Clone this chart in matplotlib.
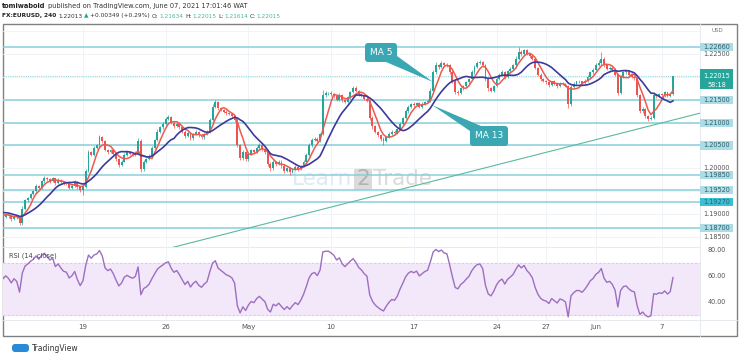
import numpy as np
import pandas as pd
import matplotlib
matplotlib.use('Agg')
import matplotlib.pyplot as plt
from matplotlib.patches import Rectangle, FancyBboxPatch, Polygon
from matplotlib.transforms import blended_transform_factory

# ---- data: EURUSD 4H closes (first 18 bars are warm-up, left of the view) ----
first_open = 1.1868
closes = [
    1.1870, 1.1865, 1.1872, 1.1880, 1.1878, 1.1875,   # Apr 7
    1.1885, 1.1898, 1.1905, 1.1912, 1.1915, 1.1918,   # Apr 8
    1.1910, 1.1902, 1.1895, 1.1890, 1.1898, 1.1900,   # Apr 9
    1.1905, 1.1893, 1.1898, 1.1895, 1.1890, 1.1896,   # Apr 12
    1.1893, 1.1880, 1.1912, 1.1930, 1.1936, 1.1944,   # Apr 13
    1.1950, 1.1962, 1.1958, 1.1972, 1.1980, 1.1976,   # Apr 14
    1.1972, 1.1978, 1.1968, 1.1975, 1.1970, 1.1966,   # Apr 15
    1.1965, 1.1958, 1.1962, 1.1970, 1.1960, 1.1952,   # Apr 16
    1.1960, 1.1995, 1.2035, 1.2030, 1.2045, 1.2050,   # Apr 19
    1.2068, 1.2060, 1.2040, 1.2035, 1.2040, 1.2032,   # Apr 20
    1.2020, 1.2008, 1.2015, 1.2030, 1.2035, 1.2032,   # Apr 21
    1.2030, 1.2034, 1.2060, 1.1998, 1.2015, 1.2020,   # Apr 22
    1.2028, 1.2045, 1.2062, 1.2080, 1.2090, 1.2098,   # Apr 23
    1.2108, 1.2112, 1.2100, 1.2092, 1.2098, 1.2090,   # Apr 26
    1.2080, 1.2070, 1.2078, 1.2066, 1.2075, 1.2080,   # Apr 27
    1.2072, 1.2068, 1.2075, 1.2080, 1.2105, 1.2135,   # Apr 28
    1.2145, 1.2132, 1.2128, 1.2124, 1.2120, 1.2118,   # Apr 29
    1.2115, 1.2106, 1.2050, 1.2022, 1.2035, 1.2020,   # Apr 30
    1.2032, 1.2040, 1.2036, 1.2045, 1.2050, 1.2042,   # May 3
    1.2035, 1.2010, 1.2000, 1.2015, 1.2010, 1.2015,   # May 4
    1.2005, 1.1995, 1.2000, 1.1992, 1.1998, 1.2003,   # May 5
    1.1998, 1.2005, 1.2015, 1.2030, 1.2050, 1.2062,   # May 6
    1.2065, 1.2060, 1.2075, 1.2160, 1.2165, 1.2165,   # May 7
    1.2162, 1.2158, 1.2150, 1.2160, 1.2150, 1.2145,   # May 10
    1.2155, 1.2166, 1.2176, 1.2170, 1.2162, 1.2158,   # May 11
    1.2152, 1.2148, 1.2110, 1.2092, 1.2080, 1.2072,   # May 12
    1.2065, 1.2060, 1.2068, 1.2075, 1.2080, 1.2078,   # May 13
    1.2085, 1.2098, 1.2110, 1.2125, 1.2135, 1.2140,   # May 14
    1.2138, 1.2142, 1.2135, 1.2140, 1.2145, 1.2148,   # May 17
    1.2170, 1.2210, 1.2225, 1.2222, 1.2230, 1.2226,   # May 18
    1.2225, 1.2210, 1.2190, 1.2168, 1.2165, 1.2175,   # May 19
    1.2180, 1.2188, 1.2195, 1.2210, 1.2222, 1.2230,   # May 20
    1.2232, 1.2225, 1.2195, 1.2175, 1.2170, 1.2180,   # May 21
    1.2195, 1.2205, 1.2210, 1.2200, 1.2212, 1.2218,   # May 24
    1.2225, 1.2240, 1.2255, 1.2250, 1.2258, 1.2250,   # May 25
    1.2245, 1.2238, 1.2220, 1.2205, 1.2195, 1.2190,   # May 26
    1.2188, 1.2182, 1.2190, 1.2185, 1.2180, 1.2186,   # May 27
    1.2184, 1.2180, 1.2140, 1.2178, 1.2185, 1.2190,   # May 28
    1.2190, 1.2186, 1.2192, 1.2200, 1.2210, 1.2215,   # May 31
    1.2225, 1.2230, 1.2240, 1.2225, 1.2218, 1.2220,   # Jun 1
    1.2215, 1.2205, 1.2165, 1.2200, 1.2210, 1.2212,   # Jun 2
    1.2205, 1.2200, 1.2198, 1.2160, 1.2125, 1.2130,   # Jun 3
    1.2115, 1.2108, 1.2110, 1.2160, 1.2158, 1.2162,   # Jun 4
    1.2160, 1.2166, 1.2158, 1.21634, 1.22015,         # Jun 7
]
# wick length above / below the body, in pips
wick_hi = [
    3, 2, 4, 3, 2, 3, 4, 3, 3, 2, 3, 2, 2, 3, 2, 3, 2, 3,
    4, 2, 3, 2, 3, 2, 3, 2, 5, 3, 2, 3, 3, 4, 2, 3, 4, 2,
    3, 4, 2, 3, 2, 2, 3, 2, 3, 4, 2, 2, 2, 4, 5, 3, 4, 3,
    5, 3, 2, 3, 3, 2, 2, 3, 3, 4, 2, 3, 2, 3, 6, 4, 3, 2,
    3, 4, 3, 5, 3, 3, 4, 5, 2, 3, 3, 2, 2, 3, 4, 2, 3, 3,
    2, 3, 3, 4, 5, 6, 5, 3, 3, 2, 3, 2, 3, 2, 4, 3, 5, 2,
    4, 3, 2, 4, 5, 3, 3, 2, 3, 4, 2, 3, 3, 4, 3, 2, 3, 4,
    2, 3, 4, 3, 5, 4, 3, 4, 3, 11, 4, 3, 5, 3, 2, 4, 3, 2,
    4, 3, 5, 3, 2, 3, 3, 4, 3, 4, 3, 2, 3, 4, 3, 4, 3, 4,
    3, 4, 3, 5, 3, 3, 4, 3, 3, 4, 3, 4, 5, 6, 8, 4, 5, 3,
    4, 3, 4, 3, 4, 3, 3, 4, 3, 4, 3, 5, 4, 3, 4, 3, 2, 3,
    4, 3, 4, 3, 3, 4, 3, 5, 11, 4, 3, 3, 3, 4, 3, 2, 3, 3,
    3, 4, 2, 3, 3, 2, 3, 2, 3, 4, 3, 2, 3, 2, 3, 4, 3, 4,
    5, 6, 14, 3, 2, 3, 3, 4, 3, 4, 3, 2, 3, 4, 3, 2, 3, 4,
    3, 2, 4, 6, 3, 2, 3, 4, 2, 3, 0,
]
wick_lo = [
    3, 3, 2, 4, 2, 3, 2, 3, 3, 2, 3, 2, 3, 3, 2, 3, 2, 3,
    3, 4, 2, 3, 4, 2, 3, 4, 3, 2, 3, 2, 2, 3, 3, 2, 3, 3,
    3, 2, 4, 3, 2, 3, 2, 3, 2, 3, 4, 3, 10, 3, 2, 4, 3, 2,
    3, 4, 3, 4, 2, 3, 3, 5, 3, 2, 3, 2, 3, 2, 3, 6, 4, 3,
    2, 3, 2, 3, 2, 3, 3, 2, 4, 3, 2, 4, 3, 4, 2, 4, 3, 2,
    3, 4, 3, 2, 3, 2, 3, 4, 2, 3, 3, 2, 3, 4, 4, 4, 3, 3,
    3, 2, 4, 3, 2, 3, 3, 4, 5, 3, 4, 3, 4, 5, 3, 7, 3, 2,
    3, 2, 3, 2, 3, 4, 3, 4, 2, 3, 3, 4, 3, 4, 3, 2, 4, 3,
    2, 3, 2, 4, 3, 2, 3, 2, 4, 5, 3, 4, 5, 8, 3, 2, 3, 4,
    3, 2, 3, 2, 3, 2, 3, 2, 4, 3, 2, 3, 2, 3, 3, 4, 2, 3,
    3, 4, 3, 5, 4, 3, 3, 2, 3, 2, 3, 2, 2, 3, 4, 5, 3, 2,
    3, 2, 3, 4, 2, 3, 3, 2, 3, 4, 3, 2, 3, 2, 3, 4, 3, 2,
    3, 4, 2, 3, 4, 3, 2, 3, 8, 3, 2, 3, 3, 4, 2, 3, 2, 3,
    3, 2, 3, 4, 3, 2, 3, 4, 5, 3, 2, 3, 3, 2, 4, 3, 4, 3,
    4, 4, 3, 3, 4, 3, 3, 4, 3, 2, 2,
]
warmup = 18

# drawn horizontal levels and their axis labels
levels = [1.2266, 1.2150, 1.2100, 1.2050, 1.1985, 1.1952, 1.1927, 1.1870]
level_labels = ['1.22660', '1.21500', '1.21000', '1.20500', '1.19850', '1.19520', '1.19270', '1.18700']
scale_ticks = [1.2250, 1.2000, 1.1900, 1.1850]
scale_labels = ['1.22500', '1.20000', '1.19000', '1.18500']
# trend line (bar index, price)
trend_x = [48, 254]
trend_y = [1.1805, 1.2121]
# time axis (bar index of first bar of the day)
tick_bars = [30, 60, 90, 120, 150, 180, 198, 216, 240]
tick_labels = ['19', '26', 'May', '10', '17', '24', '27', 'Jun', '7']
rsi_ticks = [80, 60, 40]

UP, DOWN = '#26a69a', '#ef5350'
LEVEL = '#8acfdb'

closes = np.array(closes)
x = np.arange(len(closes)) - warmup
opens = np.r_[first_open, closes[:-1]]
highs = np.maximum(opens, closes) + np.array(wick_hi) / 1e4
lows = np.minimum(opens, closes) - np.array(wick_lo) / 1e4
ma5 = pd.Series(closes).rolling(5).mean().values
ma13 = pd.Series(closes).rolling(13).mean().values


def rsi(c, n=14):
    d = np.diff(c)
    up = np.where(d > 0, d, 0.0)
    dn = np.where(d < 0, -d, 0.0)
    out = np.full(len(c), np.nan)
    au, ad = up[:n].mean(), dn[:n].mean()
    out[n] = 100 - 100 / (1 + au / ad)
    for i in range(n, len(d)):
        au = (au * (n - 1) + up[i]) / n
        ad = (ad * (n - 1) + dn[i]) / n
        out[i + 1] = 100 - 100 / (1 + au / ad)
    return out


rsi14 = rsi(closes)

W, H = 740, 357
fig = plt.figure(figsize=(W / 100, H / 100), dpi=100)
fig.patch.set_facecolor('white')
renderer = fig.canvas.get_renderer()


def px_axes(x0, y0, x1, y1, z):
    return fig.add_axes([x0 / W, 1 - y1 / H, (x1 - x0) / W, (y1 - y0) / H], zorder=z)


bg = px_axes(0, 0, W, H, 0)
bg.set_xlim(0, W)
bg.set_ylim(H, 0)
bg.axis('off')

ax = px_axes(3, 25, 700, 247, 1)
ax_rsi = px_axes(3, 247, 700, 320, 1)
fg = px_axes(0, 0, W, H, 2)
fg.set_xlim(0, W)
fg.set_ylim(H, 0)
fg.axis('off')
fg.patch.set_alpha(0)

for a in (ax, ax_rsi):
    a.patch.set_alpha(0)
    for s in a.spines.values():
        s.set_visible(False)
    a.set_xlim(1, 253.8)
    for tb in tick_bars:
        a.axvline(tb, color='#eef1f6', lw=0.6, zorder=0)

# ---- main pane ----
ax.set_ylim(1.182814, 1.231339)
ax.set_xticks([])
ax.set_yticks([])
for g in np.arange(1.185, 1.2301, 0.005):
    ax.axhline(g, color='#eef1f6', lw=0.6, zorder=0)
for lv in levels:
    ax.axhline(lv, color=LEVEL, lw=1.1, zorder=1)
ax.axhline(closes[-1], color=LEVEL, lw=0.8, ls=(0, (1, 1)), alpha=0.8, zorder=1)
ax.plot(trend_x, trend_y, color='#5cb89f', lw=0.8, zorder=2)

up = closes >= opens
body = closes - opens
body = np.where(np.abs(body) < 1e-5, 4e-5, body)
for m, col in ((up, UP), (~up, DOWN)):
    ax.vlines(x[m], lows[m], highs[m], color=col, lw=0.5, zorder=3)
    ax.bar(x[m], body[m], bottom=opens[m], width=0.7, color=col, lw=0, zorder=3)
ax.plot(x, ma5, color='#ec5a4f', lw=1.1, zorder=4)
ax.plot(x, ma13, color='#3d3a9c', lw=1.2, zorder=4)

# price scale
tr = blended_transform_factory(ax.transAxes, ax.transData)
for lv, lab in zip(levels, level_labels):
    fc = '#3cbfd3' if lab == '1.19270' else '#acdde7'
    ax.add_patch(Rectangle((1.0, lv - 0.00088), 0.047, 0.00176, transform=tr,
                           fc=fc, ec='none', clip_on=False))
    ax.text(1.0237, lv, lab, transform=tr, ha='center', va='center',
            fontsize=4.7, color='#2d5f68', clip_on=False)
for tk, lab in zip(scale_ticks, scale_labels):
    ax.text(1.0237, tk, lab, transform=tr, ha='center', va='center',
            fontsize=4.7, color='#555555', clip_on=False)
ax.add_patch(Rectangle((1.0, closes[-1] - 0.0028), 0.047, 0.0043, transform=tr,
                       fc='#26a69a', ec='none', clip_on=False))
ax.text(1.0237, closes[-1], '1.22015', transform=tr, ha='center', va='center',
        fontsize=4.7, color='white', clip_on=False)
ax.text(1.0237, closes[-1] - 0.0019, '58:18', transform=tr, ha='center', va='center',
        fontsize=4.7, color='white', clip_on=False)

# ---- RSI pane ----
ax_rsi.set_ylim(26.15, 82.3)
ax_rsi.axhspan(30, 70, color='#f3e7fa', zorder=0)
for lv in (30, 70):
    ax_rsi.axhline(lv, color='#cdbfd8', lw=0.5, ls=(0, (3, 3)), zorder=1)
ax_rsi.plot(x, rsi14, color='#9c6fc0', lw=1.0, zorder=3)
ax_rsi.set_yticks([])
ax_rsi.set_xticks(tick_bars)
ax_rsi.set_xticklabels(tick_labels, fontsize=5, color='#555555')
ax_rsi.tick_params(axis='x', length=0, pad=3.2)
ax_rsi.text(0.008, 0.93, 'RSI (14, close)', transform=ax_rsi.transAxes,
            fontsize=4.8, color='#444444', va='top')
tr2 = blended_transform_factory(ax_rsi.transAxes, ax_rsi.transData)
for v in rsi_ticks:
    ax_rsi.text(1.0237, v, f'{v:.2f}', transform=tr2, ha='center', va='center',
                fontsize=4.7, color='#555555', clip_on=False)

# ---- frame, header, watermark ----
bg.add_patch(Rectangle((3, 24), 734, 312, fc='none', ec='#808080', lw=1.0))
bg.plot([700, 700], [24, 336], color='#e3e6ec', lw=0.6)
bg.plot([3, 737], [320, 320], color='#e3e6ec', lw=0.6)
bg.plot([3, 700], [247, 247], color='#e3e6ec', lw=0.6)
bg.text(717, 31, 'USD', fontsize=4, color='#777777', ha='center', va='center')


def chain(y, parts, x0=2, fs=4.4):
    # lay text pieces one after another, measuring each rendered width
    xx = x0
    for s, col, bold, gap in parts:
        t = bg.text(xx, y, s, fontsize=fs, color=col, va='center',
                    fontweight='bold' if bold else 'normal')
        xx += t.get_window_extent(renderer=renderer).width + gap


chain(6, [('tomiwabold', '#222222', True, 2.5),
          ('published on TradingView.com, June 07, 2021 17:01:46 WAT', '#333333', False, 0)],
      fs=4.8)
chain(16, [('FX:EURUSD, 240', '#222222', True, 2.5),
           ('1.22013', '#333333', False, 1.5),
           ('\u25b2', UP, False, 1.5),
           ('+0.00349 (+0.29%)', '#333333', False, 2),
           ('O:', '#333333', False, 0.5), ('1.21634', '#4cb7a6', False, 2),
           ('H:', '#333333', False, 0.5), ('1.22015', '#4cb7a6', False, 2),
           ('L:', '#333333', False, 0.5), ('1.21614', '#4cb7a6', False, 2),
           ('C:', '#333333', False, 0.5), ('1.22015', '#4cb7a6', False, 0)],
      fs=4.2)

bg.text(292, 185, 'Learn', fontsize=15.5, color='#dde9f3', va='baseline')
bg.add_patch(FancyBboxPatch((354, 168), 18, 22, boxstyle='round,pad=0,rounding_size=2',
                            fc='#d2d2d2', ec='none', alpha=0.8))
bg.text(363, 185, '2', fontsize=15.5, color='#b3b3b3', ha='center', va='baseline')
bg.text(373, 185, 'Trade', fontsize=15.5, color='#dadada', va='baseline')

# TradingView logo
bg.add_patch(FancyBboxPatch((12, 344), 17, 8, boxstyle='round,pad=0,rounding_size=3',
                            fc='#2a8ad8', ec='none'))
bg.text(32, 348.5, 'TradingView', fontsize=5.5, color='#333333', va='center')

# ---- callouts ----
CALL = '#3aa7b2'
fg.add_patch(Polygon([(386, 62), (397, 56), (433, 82)], closed=True, fc=CALL, ec='none'))
fg.add_patch(FancyBboxPatch((365, 43), 32, 19, boxstyle='round,pad=0,rounding_size=3',
                            fc=CALL, ec='none'))
fg.text(381, 52.5, 'MA 5', fontsize=6.5, color='white', ha='center', va='center')
fg.add_patch(Polygon([(470, 131), (481, 126), (432, 105)], closed=True, fc=CALL, ec='none'))
fg.add_patch(FancyBboxPatch((470, 126), 38, 20, boxstyle='round,pad=0,rounding_size=3',
                            fc=CALL, ec='none'))
fg.text(489, 136, 'MA 13', fontsize=6.5, color='white', ha='center', va='center')

fig.savefig('out.png', dpi=100)
